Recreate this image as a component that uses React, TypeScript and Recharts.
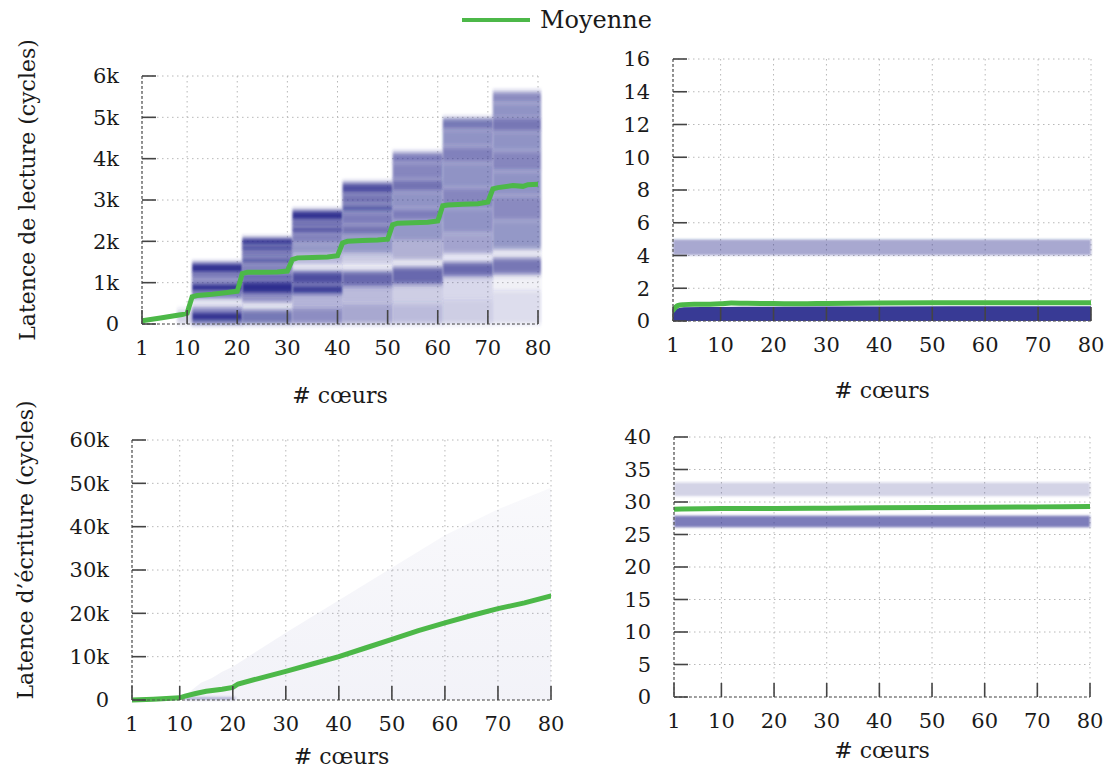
import React from "react";
import {
  ComposedChart,
  XAxis,
  YAxis,
  CartesianGrid,
  Line,
  Area,
  ReferenceArea,
  Legend,
} from "recharts";

// x axis: number of cores
const coreTicks = [1, 10, 20, 30, 40, 50, 60, 70, 80];
const readTicks = [0, 1000, 2000, 3000, 4000, 5000, 6000];
const readRatioTicks = [0, 2, 4, 6, 8, 10, 12, 14, 16];
const writeTicks = [0, 10000, 20000, 30000, 40000, 50000, 60000];
const writeRatioTicks = [0, 5, 10, 15, 20, 25, 30, 35, 40];

// mean read latency (cycles) per core count
const readMean = [
  [1, 80], [5, 150], [9, 230], [10, 260], [11, 660], [12, 690], [15, 720],
  [18, 760], [20, 790], [21, 1220], [22, 1250], [25, 1250], [28, 1260],
  [30, 1280], [31, 1560], [32, 1600], [35, 1610], [38, 1620], [40, 1650],
  [41, 1960], [42, 2000], [45, 2020], [48, 2030], [50, 2050], [51, 2400],
  [52, 2440], [55, 2450], [58, 2460], [60, 2490], [61, 2860], [62, 2880],
  [65, 2900], [68, 2910], [70, 2950], [71, 3270], [72, 3300], [75, 3350],
  [77, 3330], [78, 3370], [80, 3380],
];

// read latency density, [x from, x to, y from, y to, intensity]
const readBands = [
  [8, 11, 0, 350, 0.22],
  [11, 21, 1230, 1480, 1.0], [11, 21, 1100, 1230, 0.7], [11, 21, 990, 1100, 0.55],
  [11, 21, 780, 990, 1.0], [11, 21, 620, 780, 0.65], [11, 21, 400, 620, 0.1],
  [11, 21, 300, 400, 0.6], [11, 21, 60, 300, 1.0], [11, 21, 0, 60, 0.8],
  [21, 31, 1900, 2080, 1.0], [21, 31, 1760, 1900, 0.95], [21, 31, 1620, 1760, 0.7],
  [21, 31, 1450, 1620, 0.8], [21, 31, 1230, 1450, 0.6], [21, 31, 1050, 1230, 0.75],
  [21, 31, 720, 1050, 1.0], [21, 31, 520, 720, 0.55], [21, 31, 350, 520, 0.08],
  [21, 31, 0, 350, 0.65],
  [31, 41, 2500, 2750, 1.0], [31, 41, 2350, 2500, 0.75], [31, 41, 2200, 2350, 0.9],
  [31, 41, 1950, 2200, 0.6], [31, 41, 1700, 1950, 0.5], [31, 41, 1450, 1700, 0.35],
  [31, 41, 1280, 1450, 0.08], [31, 41, 950, 1280, 0.85], [31, 41, 720, 950, 0.95],
  [31, 41, 400, 720, 0.35], [31, 41, 0, 400, 0.55],
  [41, 51, 3150, 3420, 0.85], [41, 51, 2900, 3150, 0.68], [41, 51, 2700, 2900, 0.78],
  [41, 51, 2400, 2700, 0.62], [41, 51, 2150, 2400, 0.68], [41, 51, 1700, 2150, 0.5],
  [41, 51, 1450, 1700, 0.25], [41, 51, 1280, 1450, 0.08], [41, 51, 900, 1280, 0.72],
  [41, 51, 500, 900, 0.32], [41, 51, 0, 500, 0.42],
  [51, 61, 3900, 4150, 0.62], [51, 61, 3500, 3900, 0.58], [51, 61, 3200, 3500, 0.68],
  [51, 61, 2800, 3200, 0.52], [51, 61, 2500, 2800, 0.62], [51, 61, 2000, 2500, 0.5],
  [51, 61, 1550, 2000, 0.38], [51, 61, 1380, 1550, 0.08], [51, 61, 950, 1380, 0.72],
  [51, 61, 500, 950, 0.24], [51, 61, 0, 500, 0.32],
  [61, 71, 4700, 4980, 0.65], [61, 71, 4300, 4700, 0.52], [61, 71, 3900, 4300, 0.6],
  [61, 71, 3300, 3900, 0.52], [61, 71, 2800, 3300, 0.58], [61, 71, 2200, 2800, 0.52],
  [61, 71, 1700, 2200, 0.44], [61, 71, 1500, 1700, 0.06], [61, 71, 1150, 1500, 0.72],
  [61, 71, 600, 1150, 0.18], [61, 71, 0, 600, 0.24],
  [71, 80.6, 5350, 5620, 0.56], [71, 80.6, 5000, 5350, 0.52], [71, 80.6, 4650, 5000, 0.66],
  [71, 80.6, 4200, 4650, 0.52], [71, 80.6, 3700, 4200, 0.58], [71, 80.6, 3100, 3700, 0.52],
  [71, 80.6, 2500, 3100, 0.56], [71, 80.6, 1800, 2500, 0.5], [71, 80.6, 1600, 1800, 0.08],
  [71, 80.6, 1200, 1600, 0.66], [71, 80.6, 800, 1200, 0.08], [71, 80.6, 0, 800, 0.16],
];

// read ratio panel
const readRatioMean = [
  [1, 0.65], [1.5, 0.85], [2, 0.95], [3, 1.0], [5, 1.03], [8, 1.03], [10, 1.05],
  [12, 1.1], [15, 1.08], [20, 1.07], [25, 1.05], [30, 1.07], [40, 1.1],
  [50, 1.12], [60, 1.12], [70, 1.12], [80, 1.12],
];
const readRatioLow = [[1, 0.45], [1.7, 0.75], [3, 0.84], [10, 0.86], [40, 0.88], [80, 0.9]];
const readRatioBands = [[1, 80, 4.02, 4.98, 0.42]];

// write latency (cycles)
const writeMean = [
  [1, 0], [5, 200], [10, 500], [11, 900], [13, 1500], [15, 2000], [18, 2500],
  [20, 2900], [21, 3700], [25, 5000], [30, 6600], [35, 8300], [40, 10000],
  [45, 12000], [50, 14000], [55, 16000], [60, 17800], [65, 19500], [70, 21100],
  [75, 22400], [80, 24000],
];
const writeSpread = [
  [10, 0], [12, 2000], [14, 4000], [16, 5000], [18, 6500], [20, 7700], [30, 15500],
  [40, 23000], [50, 30500], [60, 38000], [70, 44000], [80, 49000],
];
const writeBands = [[11, 20.5, 0, 700, 0.3]];

// write ratio panel
const writeRatioMean = [
  [1, 28.9], [10, 29.0], [20, 29.0], [30, 29.05], [40, 29.1], [50, 29.15],
  [60, 29.2], [70, 29.25], [80, 29.3],
];
const writeRatioBands = [
  [1, 80, 30.9, 33.0, 0.22],
  [1, 80, 26.1, 27.9, 0.62],
];

const toXY = (rows: number[][]) => rows.map(([x, y]) => ({ x, y }));

const HEAT = "#2d2f8f";
const GREEN = "#4cb848";
const FONT = "'DejaVu Serif', 'Liberation Serif', serif";
const tickStyle = { fontFamily: FONT, fontSize: 21, fill: "#1a1a1a" };
const axisLine = { stroke: "#555", strokeWidth: 1.2, strokeDasharray: "3 2" };
const tickLine = { stroke: "#444", strokeWidth: 1.6 };
const kFormat = (v: number) => (v === 0 ? "0" : `${v / 1000}k`);

const yTitle = (cx: number, shift: number) => (props: any) => {
  const vb = props.viewBox;
  const cy = vb.y + vb.height / 2 + shift;
  return (
    <text
      x={cx}
      y={cy}
      transform={`rotate(-90 ${cx} ${cy})`}
      textAnchor="middle"
      dominantBaseline="central"
      style={{ fontFamily: FONT, fontSize: 22, fill: "#1a1a1a" }}
    >
      {props.value}
    </text>
  );
};

const xTitle = (dy: number) => (props: any) => {
  const vb = props.viewBox;
  return (
    <text
      x={vb.x + vb.width / 2}
      y={vb.y + dy}
      textAnchor="middle"
      dominantBaseline="central"
      style={{ fontFamily: FONT, fontSize: 22, fill: "#1a1a1a" }}
    >
      {props.value}
    </text>
  );
};

const blurRect = (id: string) => (p: any) => (
  <rect
    x={p.x}
    y={p.y}
    width={p.width}
    height={p.height}
    fill={p.fill}
    fillOpacity={p.fillOpacity}
    filter={`url(#${id})`}
  />
);

const blurDefs = (id: string, sx: number, sy: number) => (
  <defs>
    <filter id={id} filterUnits="userSpaceOnUse" x={-200} y={-200} width={1200} height={1000}>
      <feGaussianBlur stdDeviation={`${sx} ${sy}`} />
    </filter>
  </defs>
);

const renderLegend = (props: any) => {
  const item = (props.payload || [])[0];
  return (
    <div style={{ display: "flex", alignItems: "center", height: 32 }}>
      <svg width={72} height={10}>
        <line x1={2} y1={5} x2={70} y2={5} stroke={GREEN} strokeWidth={4} />
      </svg>
      <span style={{ fontFamily: FONT, fontSize: 24, color: "#1a1a1a", marginLeft: 8 }}>
        {item ? item.value : "Moyenne"}
      </span>
    </div>
  );
};

const xAxisProps = (height: number, dy: number) => ({
  type: "number" as const,
  dataKey: "x",
  domain: [1, 80],
  ticks: coreTicks,
  interval: 0 as const,
  allowDataOverflow: true,
  tickSize: -14,
  tickMargin: 30,
  tick: tickStyle,
  axisLine,
  tickLine,
  height,
  label: { value: "# cœurs", content: xTitle(dy) },
});

const gridProps = { stroke: "#b8b8b8", strokeDasharray: "1.5 3.5" };

function ReadLatency() {
  return (
    <ComposedChart width={558} height={414} margin={{ top: 76, right: 20, left: 0, bottom: 0 }}>
      {blurDefs("blurRead", 1, 2.5)}
      <CartesianGrid {...gridProps} />
      <XAxis {...xAxisProps(90, 71)} />
      <YAxis
        type="number"
        domain={[0, 6000]}
        ticks={readTicks}
        interval={0}
        width={142}
        tickSize={-14}
        tickMargin={37}
        tick={tickStyle}
        axisLine={axisLine}
        tickLine={tickLine}
        tickFormatter={kFormat}
        label={{ value: "Latence de lecture  (cycles)", content: yTitle(27, -10) }}
      />
      {readBands.map(([x1, x2, y1, y2, o], i) => (
        <ReferenceArea
          key={i}
          x1={x1}
          x2={x2}
          y1={y1}
          y2={y2}
          fill={HEAT}
          fillOpacity={o}
          stroke="none"
          ifOverflow="visible"
          shape={blurRect("blurRead")}
        />
      ))}
      <Line
        name="Moyenne"
        data={toXY(readMean)}
        dataKey="y"
        type="linear"
        stroke={GREEN}
        strokeWidth={5}
        strokeLinecap="round"
        dot={false}
        isAnimationActive={false}
      />
      <Legend
        layout="horizontal"
        verticalAlign="middle"
        align="center"
        wrapperStyle={{ position: "absolute", top: 4, left: 460, width: 220, height: 32 }}
        content={renderLegend}
      />
    </ComposedChart>
  );
}

function ReadRatio() {
  return (
    <ComposedChart width={551} height={411} margin={{ top: 59, right: 20, left: 0, bottom: 0 }}>
      {blurDefs("blurReadRatio", 1, 0.8)}
      <CartesianGrid {...gridProps} />
      <XAxis {...xAxisProps(90, 69)} />
      <YAxis
        type="number"
        domain={[0, 16]}
        ticks={readRatioTicks}
        interval={0}
        width={113}
        tickSize={-14}
        tickMargin={37}
        tick={tickStyle}
        axisLine={axisLine}
        tickLine={tickLine}
      />
      {readRatioBands.map(([x1, x2, y1, y2, o], i) => (
        <ReferenceArea
          key={i}
          x1={x1}
          x2={x2}
          y1={y1}
          y2={y2}
          fill={HEAT}
          fillOpacity={o}
          stroke="none"
          ifOverflow="visible"
          shape={blurRect("blurReadRatio")}
        />
      ))}
      <Area
        data={toXY(readRatioLow)}
        dataKey="y"
        type="monotone"
        stroke="none"
        fill={HEAT}
        fillOpacity={0.95}
        legendType="none"
        isAnimationActive={false}
      />
      <Line
        name="Moyenne"
        data={toXY(readRatioMean)}
        dataKey="y"
        type="monotone"
        stroke={GREEN}
        strokeWidth={5}
        strokeLinecap="round"
        dot={false}
        isAnimationActive={false}
      />
    </ComposedChart>
  );
}

function WriteLatency() {
  return (
    <ComposedChart width={571} height={389} margin={{ top: 60, right: 20, left: 0, bottom: 0 }}>
      {blurDefs("blurWrite", 1, 1)}
      <defs>
        <linearGradient id="writeFade" x1="0" y1="0" x2="0" y2="1">
          <stop offset="0%" stopColor={HEAT} stopOpacity={0.05} />
          <stop offset="100%" stopColor={HEAT} stopOpacity={0.1} />
        </linearGradient>
      </defs>
      <CartesianGrid {...gridProps} />
      <XAxis {...xAxisProps(69, 56)} />
      <YAxis
        type="number"
        domain={[0, 60000]}
        ticks={writeTicks}
        interval={0}
        width={132}
        tickSize={-14}
        tickMargin={37}
        tick={tickStyle}
        axisLine={axisLine}
        tickLine={tickLine}
        tickFormatter={kFormat}
        label={{ value: "Latence d’écriture (cycles)", content: yTitle(25, -20) }}
      />
      <Area
        data={toXY(writeSpread)}
        dataKey="y"
        type="linear"
        stroke="none"
        fill="url(#writeFade)"
        legendType="none"
        isAnimationActive={false}
      />
      {writeBands.map(([x1, x2, y1, y2, o], i) => (
        <ReferenceArea
          key={i}
          x1={x1}
          x2={x2}
          y1={y1}
          y2={y2}
          fill={HEAT}
          fillOpacity={o}
          stroke="none"
          ifOverflow="visible"
          shape={blurRect("blurWrite")}
        />
      ))}
      <Line
        name="Moyenne"
        data={toXY(writeMean)}
        dataKey="y"
        type="linear"
        stroke={GREEN}
        strokeWidth={5}
        strokeLinecap="round"
        dot={false}
        isAnimationActive={false}
      />
    </ComposedChart>
  );
}

function WriteRatio() {
  return (
    <ComposedChart width={550} height={387} margin={{ top: 57, right: 20, left: 0, bottom: 0 }}>
      {blurDefs("blurWriteRatio", 1, 0.8)}
      <CartesianGrid {...gridProps} />
      <XAxis {...xAxisProps(70, 53)} />
      <YAxis
        type="number"
        domain={[0, 40]}
        ticks={writeRatioTicks}
        interval={0}
        width={114}
        tickSize={-14}
        tickMargin={37}
        tick={tickStyle}
        axisLine={axisLine}
        tickLine={tickLine}
      />
      {writeRatioBands.map(([x1, x2, y1, y2, o], i) => (
        <ReferenceArea
          key={i}
          x1={x1}
          x2={x2}
          y1={y1}
          y2={y2}
          fill={HEAT}
          fillOpacity={o}
          stroke="none"
          ifOverflow="visible"
          shape={blurRect("blurWriteRatio")}
        />
      ))}
      <Line
        name="Moyenne"
        data={toXY(writeRatioMean)}
        dataKey="y"
        type="monotone"
        stroke={GREEN}
        strokeWidth={5}
        strokeLinecap="round"
        dot={false}
        isAnimationActive={false}
      />
    </ComposedChart>
  );
}

export default function App() {
  return (
    <div style={{ position: "absolute", left: 0, top: 0, width: 1112, height: 769, background: "#fff" }}>
      <div style={{ position: "absolute", left: 0, top: 0 }}>
        <ReadLatency />
      </div>
      <div style={{ position: "absolute", left: 560, top: 0 }}>
        <ReadRatio />
      </div>
      <div style={{ position: "absolute", left: 0, top: 380 }}>
        <WriteLatency />
      </div>
      <div style={{ position: "absolute", left: 560, top: 380 }}>
        <WriteRatio />
      </div>
    </div>
  );
}
